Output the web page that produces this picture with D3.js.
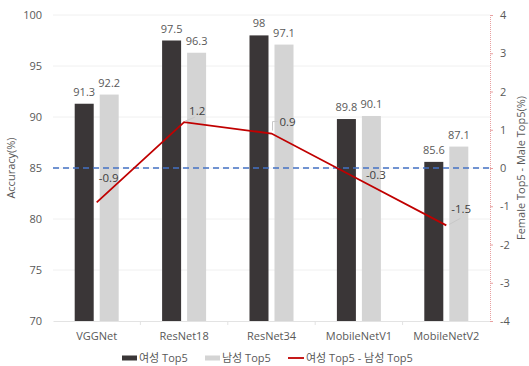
<!DOCTYPE html>
<html>
<head>
<meta charset="utf-8">
<script src="https://cdn.jsdelivr.net/npm/d3@7"></script>
<style>
  body { margin: 0; background: #fff; }
  text { font-family: "Open Sans", "Noto Sans CJK KR", sans-serif; fill: #595959; }
</style>
</head>
<body>
<script>
// chart data
var models = ["VGGNet", "ResNet18", "ResNet34", "MobileNetV1", "MobileNetV2"];
var femaleTop5 = [91.3, 97.5, 98, 89.8, 85.6];
var maleTop5 = [92.2, 96.3, 97.1, 90.1, 87.1];
var diffTop5 = [-0.9, 1.2, 0.9, -0.3, -1.5];
var leftTicks = [70, 75, 80, 85, 90, 95, 100];
var rightTicks = [-4, -3, -2, -1, 0, 1, 2, 3, 4];
var legendLabels = ["여성 Top5", "남성 Top5", "여성 Top5 - 남성 Top5"];

var width = 529, height = 366;
var plotLeft = 53, plotRight = 490, plotTop = 15, plotBottom = 321;

var svg = d3.select("body").append("svg")
  .attr("width", width)
  .attr("height", height);

var x = d3.scaleBand().domain(models).range([plotLeft, plotRight]);
var x1 = d3.scaleBand().domain(["f", "m"]).range([-22, 22]).paddingInner(0.24);
var y = d3.scaleLinear().domain([70, 100]).range([plotBottom, plotTop]);
var y2 = d3.scaleLinear().domain([-4, 4]).range([plotBottom, plotTop]);

function cx(i) { return x(models[i]) + x.bandwidth() / 2; }

// gridlines
svg.append("g").selectAll("line").data(leftTicks.slice(1)).enter().append("line")
  .attr("x1", plotLeft).attr("x2", plotRight)
  .attr("y1", function (d) { return y(d); })
  .attr("y2", function (d) { return y(d); })
  .attr("stroke", "#f0f0f0");

// left axis
var yAxis = svg.append("g")
  .attr("transform", "translate(" + plotLeft + ",0)")
  .call(d3.axisLeft(y).tickValues(leftTicks).tickSize(0).tickPadding(11));
yAxis.select(".domain").remove();
yAxis.selectAll("text").style("font-size", "11px");

// bottom axis
var xAxis = svg.append("g")
  .attr("transform", "translate(0," + plotBottom + ")")
  .call(d3.axisBottom(x).tickSize(0).tickPadding(11));
xAxis.select(".domain").attr("stroke", "#e3e3e3");
xAxis.selectAll("text").style("font-size", "11px");
svg.append("g").selectAll("line").data(models.slice(1)).enter().append("line")
  .attr("x1", function (d) { return x(d); })
  .attr("x2", function (d) { return x(d); })
  .attr("y1", plotBottom).attr("y2", plotBottom + 4)
  .attr("stroke", "#e3e3e3");

// right axis
var y2Axis = svg.append("g")
  .attr("transform", "translate(" + plotRight + ",0)")
  .call(d3.axisRight(y2).tickValues(rightTicks).tickSize(3).tickPadding(7)
    .tickFormat(function (d) { return String(d); }));
y2Axis.select(".domain").attr("stroke", "#e8a0a0").attr("stroke-dasharray", "1,1");
y2Axis.selectAll("line").attr("stroke", "#e8a0a0");
y2Axis.selectAll("text").style("font-size", "11px");

// bars
var barData = [];
models.forEach(function (m, i) {
  barData.push({ model: m, key: "f", value: femaleTop5[i] });
  barData.push({ model: m, key: "m", value: maleTop5[i] });
});

var bars = svg.append("g").selectAll("rect").data(barData);
bars.enter().append("rect")
  .attr("x", function (d) { return x(d.model) + x.bandwidth() / 2 + x1(d.key); })
  .attr("y", function (d) { return y(d.value); })
  .attr("width", x1.bandwidth())
  .attr("height", function (d) { return y(70) - y(d.value); })
  .attr("fill", function (d) { return d.key == "f" ? "#3a3637" : "#d4d4d4"; });

svg.append("g").selectAll("text").data(barData).enter().append("text")
  .attr("x", function (d) { return x(d.model) + x.bandwidth() / 2 + x1(d.key) + x1.bandwidth() / 2; })
  .attr("y", function (d) { return y(d.value) - 8; })
  .attr("text-anchor", "middle")
  .style("font-size", "11px")
  .text(function (d) { return d.value; });

// zero reference line
svg.append("line")
  .attr("x1", plotLeft).attr("x2", plotRight)
  .attr("y1", y2(0)).attr("y2", y2(0))
  .attr("stroke", "#4472c4")
  .attr("stroke-width", 1.5)
  .attr("stroke-dasharray", "6,4");

// difference line
var line = d3.line()
  .x(function (d, i) { return cx(i); })
  .y(function (d) { return y2(d); });

svg.append("path")
  .datum(diffTop5)
  .attr("d", line)
  .attr("fill", "none")
  .attr("stroke", "#c00000")
  .attr("stroke-width", 1.8);

// label placement for the difference (dragged labels, like the original)
var labelShift = [[2, -20], [5, -7], [8, -8], [7, 0], [5, -12]];

var diffG = svg.append("g").selectAll("g").data(diffTop5).enter().append("g");
diffG.append("polyline")
  .attr("points", function (d, i) {
    var px = cx(i), py = y2(d);
    var s = labelShift[i];
    if (i == 1) return [px + 1, py - 1, px + 11, py - 5].join(",");
    if (i == 2) return [px + 1, py - 3, px + 1, py - 12, px + 6, py - 12].join(",");
    if (i == 4) return [px + 3, py - 1, px + 14, py - 7].join(",");
    return "";
  })
  .attr("fill", "none")
  .attr("stroke", "#c8c8c8");
diffG.append("text")
  .attr("x", function (d, i) { return cx(i) + labelShift[i][0]; })
  .attr("y", function (d, i) { return y2(d) + labelShift[i][1]; })
  .style("font-size", "11.5px")
  .style("fill", "#404040")
  .text(function (d) { return d; });

// axis titles
svg.append("text")
  .attr("transform", "translate(15," + y(85) + ") rotate(-90)")
  .attr("text-anchor", "middle")
  .style("font-size", "11px")
  .text("Accuracy(%)");
svg.append("text")
  .attr("transform", "translate(525," + y2(0) + ") rotate(-90)")
  .attr("text-anchor", "middle")
  .style("font-size", "11px")
  .text("Female Top5 - Male Top5(%)");

// legend
var legend = svg.append("g").attr("transform", "translate(0,358)");
legend.append("rect").attr("x", 122).attr("y", -2.5).attr("width", 15).attr("height", 5).attr("fill", "#3a3637");
legend.append("text").attr("x", 139).attr("y", 4).style("font-size", "11px").text(legendLabels[0]);
legend.append("rect").attr("x", 205).attr("y", -2.5).attr("width", 15).attr("height", 5).attr("fill", "#d4d4d4");
legend.append("text").attr("x", 222).attr("y", 4).style("font-size", "11px").text(legendLabels[1]);
legend.append("line").attr("x1", 288).attr("x2", 304).attr("y1", 0).attr("y2", 0)
  .attr("stroke", "#c00000").attr("stroke-width", 1.8);
legend.append("text").attr("x", 306).attr("y", 4).style("font-size", "11px").text(legendLabels[2]);
</script>
</body>
</html>
